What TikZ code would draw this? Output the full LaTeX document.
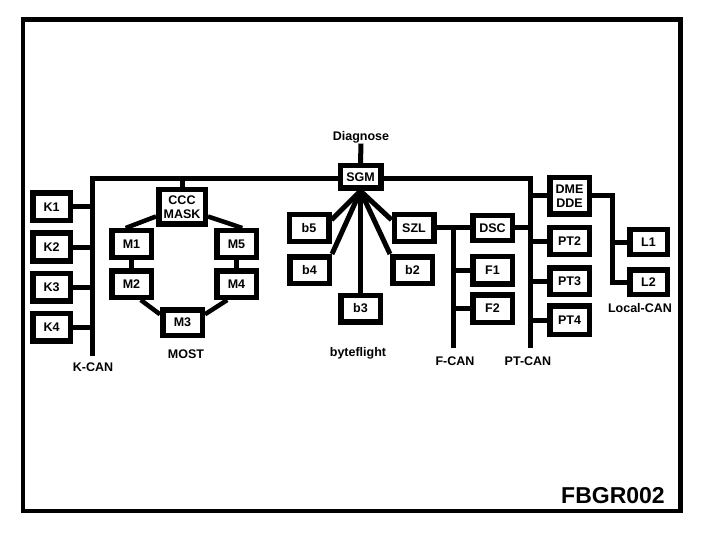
\documentclass[tikz,border=0pt]{standalone}
\usepackage{fontspec}
\setmainfont{Liberation Sans}
\usetikzlibrary{positioning}
\newcommand\ecufont{\fontsize{12.5}{13.5}\selectfont\bfseries}
\tikzset{
  ecubox/.style={draw, line width=5.5pt, fill=white, minimum width=39.5pt,
                 minimum height=26.5pt, inner sep=1pt, align=center, font=\ecufont},
  kbox/.style={ecubox, minimum width=37.5pt, minimum height=27.5pt},
  lbox/.style={ecubox, minimum width=37.5pt, minimum height=24.5pt},
  widebox/.style={ecubox, minimum width=46.5pt, minimum height=34.5pt},
  buslbl/.style={font=\ecufont, inner sep=0pt},
  bus/.style={line width=5pt},
  ring/.style={line width=4.5pt}}

\begin{document}
\begin{tikzpicture}[x=1pt,y=-1pt]
    \useasboundingbox (0,0) rectangle (704,540);
    \draw[line width=4.5pt] (23,19.5) rectangle (680.5,511);
    % bus ends
    \coordinate (ktop) at (92,179);
    \coordinate (kend) at (92,356);
    \coordinate (ptop) at (530,179);
    \coordinate (pend) at (530,348);
    \coordinate (fend) at (453,348);
    \coordinate (lbus) at (612,282);
    \draw[bus] (kend) -- (ktop) -- (ptop) -- (pend);
    % K-CAN
    \node[kbox] (k1) at (51.5,207) {K1};
    \node[kbox] (k2) at (51.5,247) {K2};
    \node[kbox] (k3) at (51.5,287) {K3};
    \node[kbox] (k4) at (51.5,327) {K4};
    \draw[bus] (k1.east) -- (k1.east -| ktop);
    \draw[bus] (k2.east) -- (k2.east -| ktop);
    \draw[bus] (k3.east) -- (k3.east -| ktop);
    \draw[bus] (k4.east) -- (k4.east -| ktop);
    \node[buslbl] (kcan) at (93,367) {K-CAN};
    % MOST ring
    \node[widebox] (ccc) at (182,207) {CCC\\MASK};
    \node[ecubox] (m1) at (131.5,244) {M1};
    \node[ecubox] (m2) at (131.5,284) {M2};
    \node[ecubox, minimum height=25.5pt] (m3) at (182.5,322.5) {M3};
    \node[ecubox] (m4) at (236.5,284) {M4};
    \node[ecubox] (m5) at (236.5,244) {M5};
    \draw[bus] (ccc.north) -- (ccc.north |- ktop);
    \draw[ring] (ccc.200) -- (m1.110);
    \draw[ring] (ccc.340) -- (m5.70);
    \draw[ring] (m1) -- (m2);
    \draw[ring] (m5) -- (m4);
    \draw[ring] (m2.300) -- (m3.160);
    \draw[ring] (m4.240) -- (m3.20);
    \node[buslbl] (most) at (186,354) {MOST};
    % byteflight
    \node[ecubox, minimum width=40.5pt, minimum height=22.5pt] (sgm) at (360.5,177) {SGM};
    \node[buslbl] (diag) at (361,137.5) {Diagnose};
    \draw[bus] (sgm.north) -- (diag.south);
    \node[ecubox] (b5) at (309,228) {b5};
    \node[ecubox] (b4) at (309.5,270) {b4};
    \node[ecubox] (b3) at (360.5,308.5) {b3};
    \node[ecubox] (b2) at (412.5,270) {b2};
    \node[ecubox] (szl) at (414,228) {SZL};
    \draw[bus] (sgm.south) -- (b5.20);
    \draw[bus] (sgm.south) -- (b4.north east);
    \draw[bus] (sgm.south) -- (b3.north);
    \draw[bus] (sgm.south) -- (b2.north west);
    \draw[bus] (sgm.south) -- (szl.160);
    \node[buslbl] (bfl) at (358,353) {byteflight};
    % F-CAN
    \node[ecubox, minimum height=24.5pt] (dsc) at (492.5,228) {DSC};
    \node[ecubox, minimum height=27.5pt] (f1) at (492.5,270) {F1};
    \node[ecubox, minimum height=27.5pt] (f2) at (492.5,308.5) {F2};
    \draw[bus] (szl) -- (dsc);
    \draw[bus] (fend) -- (fend |- dsc.west);
    \draw[bus] (f1.west) -- (f1.west -| fend);
    \draw[bus] (f2.west) -- (f2.west -| fend);
    \draw[bus] (dsc.east) -- (dsc.east -| ptop);
    \node[buslbl] (fcan) at (455,361) {F-CAN};
    % PT-CAN
    \node[ecubox, minimum height=36.5pt] (dme) at (569.5,196) {DME\\DDE};
    \node[ecubox] (pt2) at (569.5,241) {PT2};
    \node[ecubox] (pt3) at (569.5,281) {PT3};
    \node[ecubox, minimum height=28.5pt] (pt4) at (569.5,320) {PT4};
    \draw[bus] (dme.west) -- (dme.west -| ptop);
    \draw[bus] (pt2.west) -- (pt2.west -| ptop);
    \draw[bus] (pt3.west) -- (pt3.west -| ptop);
    \draw[bus] (pt4.west) -- (pt4.west -| ptop);
    \node[buslbl] (ptcan) at (528,361) {PT-CAN};
    % Local-CAN
    \node[lbox] (l1) at (648.5,242) {L1};
    \node[lbox] (l2) at (648.5,282) {L2};
    \draw[bus] (dme.east) -| (lbus) -- (l2.west);
    \draw[bus] (l1.west) -- (l1.west -| lbus);
    \node[buslbl] (lcan) at (640,308) {Local-CAN};
    \node[font=\fontsize{23}{25}\selectfont\bfseries, inner sep=0pt] (fig) at (613,496) {FBGR002};
  \end{tikzpicture}
\end{document}
